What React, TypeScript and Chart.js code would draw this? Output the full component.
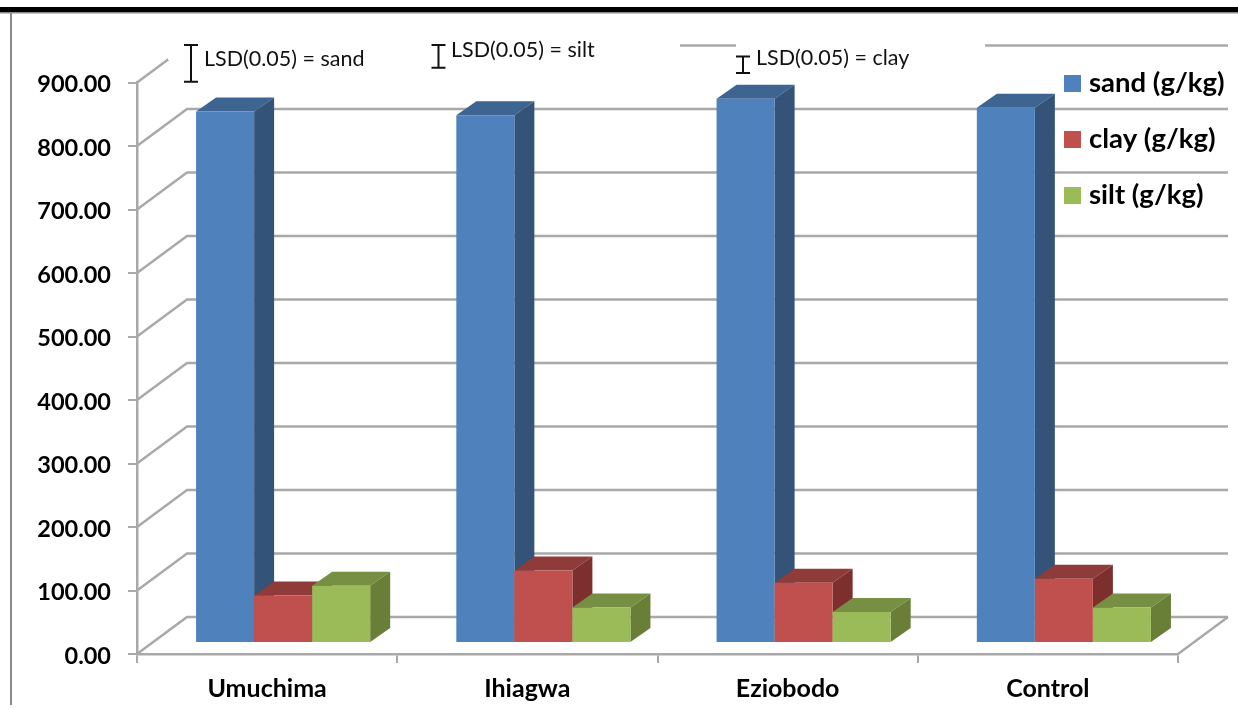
import React, { useEffect, useRef } from "react";
import { Chart, registerables } from "chart.js";

Chart.register(...registerables);

const categories = ["Umuchima", "Ihiagwa", "Eziobodo", "Control"];
const sand = [837, 831, 857, 843];
const clay = [75, 114, 95, 101];
const silt = [90, 56, 49, 56];
const seriesLabels = ["sand (g/kg)", "clay (g/kg)", "silt (g/kg)"];
const lsdLabels = ["LSD(0.05) = sand", "LSD(0.05) = silt", "LSD(0.05) = clay"];
const lsdValues = [58, 36, 26];

const FRONT = ["#4f81bd", "#c0504d", "#9bbb59"];
const TOP = ["#3e6491", "#8f3b39", "#768f43"];
const SIDE = ["#335378", "#7d2f2d", "#697f38"];
const GRID = "#a9a9a9";
const FONT = "Lato, Carlito, sans-serif";

const wall = { dx: 50, dy: -37 };
const barShift = { dx: 16, dy: -11 };
const barDepth = { dx: 20, dy: -14 };

const backdrop = {
  id: "backdrop",
  beforeDraw(chart: any) {
    const { ctx, chartArea: a, scales } = chart;
    const y = scales.y;
    ctx.save();
    ctx.fillStyle = "#fff";
    ctx.fillRect(0, 0, chart.width, chart.height);
    // page rules
    ctx.fillStyle = "#8a8a8a";
    ctx.fillRect(0, 11, chart.width, 2.5);
    ctx.fillRect(10, 13, 2, 692);
    ctx.fillStyle = "#000";
    ctx.fillRect(0, 7, chart.width, 5);
    // 3D walls
    ctx.strokeStyle = GRID;
    ctx.lineWidth = 2.5;
    y.ticks.forEach((t: any) => {
      const py = y.getPixelForValue(t.value);
      ctx.beginPath();
      ctx.moveTo(a.left, py);
      ctx.lineTo(a.left + wall.dx, py + wall.dy);
      ctx.lineTo(a.right + wall.dx, py + wall.dy);
      ctx.stroke();
    });
    const by = y.getPixelForValue(0);
    ctx.beginPath();
    ctx.moveTo(a.right, by);
    ctx.lineTo(a.right + wall.dx, by + wall.dy);
    ctx.stroke();
    // white annotation boxes hiding the top wall line
    ctx.fillStyle = "#fff";
    ctx.fillRect(168, 36, 512, 24);
    ctx.fillRect(736, 36, 249, 24);
    ctx.restore();
  },
};

const bars3d = {
  id: "bars3d",
  beforeDatasetsDraw(chart: any) {
    const { ctx } = chart;
    chart.data.datasets.forEach((_: any, i: number) => {
      const meta = chart.getDatasetMeta(i);
      ctx.save();
      ctx.translate(barShift.dx, barShift.dy);
      meta.data.forEach((el: any) => {
        const { x, y, base, width } = el.getProps(["x", "y", "base", "width"], true);
        const l = x - width / 2;
        const r = x + width / 2;
        ctx.fillStyle = TOP[i];
        ctx.beginPath();
        ctx.moveTo(l, y);
        ctx.lineTo(l + barDepth.dx, y + barDepth.dy);
        ctx.lineTo(r + barDepth.dx, y + barDepth.dy);
        ctx.lineTo(r, y);
        ctx.closePath();
        ctx.fill();
        ctx.fillStyle = SIDE[i];
        ctx.beginPath();
        ctx.moveTo(r, y);
        ctx.lineTo(r + barDepth.dx, y + barDepth.dy);
        ctx.lineTo(r + barDepth.dx, base + barDepth.dy);
        ctx.lineTo(r, base);
        ctx.closePath();
        ctx.fill();
      });
      meta.controller.draw();
      ctx.restore();
    });
  },
  beforeDatasetDraw() {
    return false;
  },
};

const overlay = {
  id: "overlay",
  afterDraw(chart: any) {
    const { ctx, scales } = chart;
    const y = scales.y;
    ctx.save();
    // legend
    const legendX = 1064;
    const legendY = [75, 131, 187];
    seriesLabels.forEach((label, i) => {
      ctx.fillStyle = FRONT[i];
      ctx.fillRect(legendX, legendY[i], 17, 17);
      ctx.fillStyle = "#000";
      ctx.font = `bold 27.5px ${FONT}`;
      ctx.textAlign = "left";
      ctx.textBaseline = "middle";
      ctx.fillText(label, legendX + 25, legendY[i] + 8.5);
    });
    // LSD whiskers
    const whiskerX = [191, 438.5, 743];
    const whiskerTop = [45, 45, 56.5];
    const textX = [204, 451, 756];
    const textY = [59, 50, 58];
    lsdLabels.forEach((label, i) => {
      const len = y.getPixelForValue(0) - y.getPixelForValue(lsdValues[i]);
      const x = whiskerX[i];
      const t = whiskerTop[i];
      ctx.strokeStyle = "#111";
      ctx.lineWidth = 2;
      ctx.beginPath();
      ctx.moveTo(x - 7, t);
      ctx.lineTo(x + 7, t);
      ctx.moveTo(x, t);
      ctx.lineTo(x, t + len);
      ctx.moveTo(x - 7, t + len);
      ctx.lineTo(x + 7, t + len);
      ctx.stroke();
      ctx.fillStyle = "#111";
      ctx.font = `21.5px ${FONT}`;
      ctx.textAlign = "left";
      ctx.textBaseline = "middle";
      ctx.fillText(label, textX[i], textY[i]);
    });
    ctx.restore();
  },
};

export default function App() {
  const ref = useRef<HTMLCanvasElement>(null);
  useEffect(() => {
    const chart = new Chart(ref.current as HTMLCanvasElement, {
      type: "bar",
      data: {
        labels: categories,
        datasets: [sand, clay, silt].map((values, i) => ({
          label: seriesLabels[i],
          data: values,
          backgroundColor: FRONT[i],
          borderWidth: 0,
          barPercentage: 1,
          categoryPercentage: 0.669,
        })),
      },
      options: {
        responsive: false,
        animation: false,
        devicePixelRatio: 1,
        layout: { padding: { top: 82.5, right: 60, bottom: 0, left: 0 } },
        plugins: { legend: { display: false }, tooltip: { enabled: false }, title: { display: false } },
        scales: {
          x: {
            afterFit: (s: any) => {
              s.height = 55;
            },
            grid: {
              drawOnChartArea: false,
              drawTicks: true,
              tickLength: 9,
              color: GRID,
              lineWidth: 2,
            },
            border: { color: GRID, width: 2.5 },
            ticks: {
              color: "#000",
              padding: 11,
              maxRotation: 0,
              font: { family: FONT, size: 25, weight: "bold" },
            },
          },
          y: {
            min: 0,
            max: 900,
            afterFit: (s: any) => {
              s.width = 137;
            },
            grid: {
              drawOnChartArea: false,
              drawTicks: true,
              tickLength: 9,
              color: GRID,
              lineWidth: 2,
            },
            border: { color: GRID, width: 2.5 },
            ticks: {
              stepSize: 100,
              color: "#000",
              padding: 17,
              labelOffset: 2,
              font: { family: FONT, size: 23.5, weight: "bold" },
              callback: (v: any) => Number(v).toFixed(2),
            },
          },
        },
      },
      plugins: [backdrop, bars3d, overlay],
    } as any);
    return () => chart.destroy();
  }, []);
  return (
    <canvas
      ref={ref}
      width={1238}
      height={709}
      style={{ position: "absolute", left: 0, top: 0, display: "block", width: 1238, height: 709 }}
    />
  );
}
